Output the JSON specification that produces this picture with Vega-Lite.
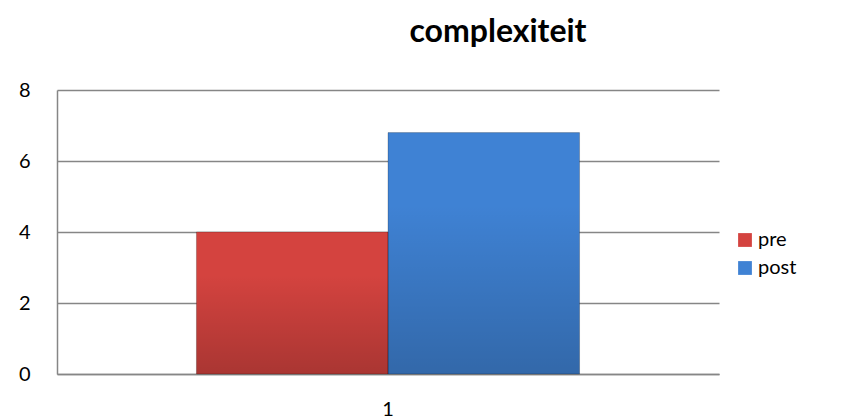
{
  "$schema": "https://vega.github.io/schema/vega-lite/v6.json",
  "autosize": {"type": "none"},
  "width": 662,
  "height": 284,
  "padding": {"left": 57, "top": 90, "right": 127, "bottom": 44},
  "background": "white",
  "config": {
    "font": "Lato",
    "view": {"stroke": null},
    "axis": {"labelFont": "Lato", "labelColor": "#000000"}
  },
  "title": {
    "text": "complexiteit",
    "font": "Lato",
    "fontSize": 32,
    "fontWeight": "bold",
    "color": "#000000",
    "anchor": "middle",
    "dx": 110,
    "offset": 31
  },
  "data": {
    "values": [
      {"categorie": "1", "reeks": "pre", "waarde": 4},
      {"categorie": "1", "reeks": "post", "waarde": 6.8}
    ]
  },
  "encoding": {
    "x": {
      "field": "categorie",
      "type": "nominal",
      "scale": {"paddingInner": 0, "paddingOuter": 0.364},
      "axis": {
        "title": null,
        "labelAngle": 0,
        "labelFontSize": 20,
        "labelPadding": 25,
        "ticks": false,
        "tickSize": 0,
        "domain": true,
        "domainColor": "#868686",
        "domainWidth": 1.5
      }
    },
    "xOffset": {
      "field": "reeks",
      "type": "nominal",
      "sort": ["pre", "post"],
      "scale": {"paddingInner": 0, "paddingOuter": 0}
    },
    "y": {
      "field": "waarde",
      "type": "quantitative",
      "scale": {"domain": [0, 8], "nice": false},
      "axis": {
        "title": null,
        "values": [0, 2, 4, 6, 8],
        "labelFontSize": 20,
        "labelPadding": 27,
        "ticks": false,
        "tickSize": 0,
        "domain": true,
        "domainColor": "#868686",
        "domainWidth": 1.5,
        "grid": true,
        "gridColor": "#868686",
        "gridWidth": 1.5
      }
    }
  },
  "layer": [
    {
      "mark": {"type": "bar"},
      "encoding": {
        "color": {
          "field": "reeks",
          "type": "nominal",
          "sort": ["pre", "post"],
          "scale": {"domain": ["pre", "post"], "range": ["#d4433f", "#3f82d4"]},
          "legend": {
            "title": null,
            "orient": "none",
            "legendX": 678,
            "legendY": 140,
            "symbolType": "square",
            "symbolSize": 190,
            "symbolStrokeWidth": 0,
            "labelFont": "Lato",
            "labelFontSize": 20,
            "labelColor": "#000000",
            "labelOffset": 3,
            "rowPadding": 8
          }
        }
      }
    },
    {
      "mark": {
        "type": "bar",
        "fill": {
          "gradient": "linear",
          "x1": 0, "y1": 0, "x2": 0, "y2": 1,
          "stops": [
            {"offset": 0, "color": "rgba(255,255,255,0.0)"},
            {"offset": 0.3, "color": "rgba(0,0,0,0.0)"},
            {"offset": 1, "color": "rgba(0,0,0,0.2)"}
          ]
        },
        "stroke": "rgba(0,0,0,0.22)",
        "strokeWidth": 1
      }
    }
  ]
}
